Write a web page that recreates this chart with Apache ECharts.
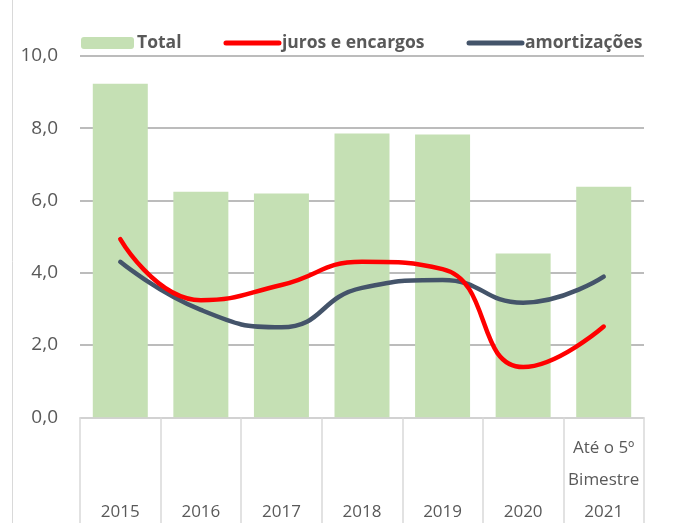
<!DOCTYPE html>
<html>
<head>
<meta charset="utf-8">
<script src="https://cdn.jsdelivr.net/npm/echarts@6/dist/echarts.min.js"></script>
<style>
html, body { margin: 0; padding: 0; background: #fff; }
#chart { width: 673px; height: 523px; }
</style>
</head>
<body>
<div id="chart"></div>
<script>
// categorias e séries
const categories = ['2015', '2016', '2017', '2018', '2019', '2020', 'Até o 5º\nBimestre\n2021']
const total = [9.23, 6.24, 6.19, 7.85, 7.82, 4.53, 6.38]
const juros = [4.93, 3.24, 3.66, 4.30, 4.10, 1.39, 2.51]
const amortizacoes = [4.30, 2.97, 2.49, 3.58, 3.80, 3.17, 3.89]

const textColor = '#595959'
const font = '"Open Sans", sans-serif'

const chart = echarts.init(document.getElementById('chart'))

const lineLegend = (name, color) => ({
    name: name,
    itemStyle: { opacity: 0 },
    lineStyle: { color: color, width: 5, cap: 'round' }
})

const options = {
    animation: false,
    textStyle: { fontFamily: font },
    graphic: [
        {
            type: 'line',
            shape: { x1: 12.5, y1: 0, x2: 12.5, y2: 523 },
            style: { stroke: '#d9d9d9', lineWidth: 1 }
        }
    ],
    legend: {
        left: 76,
        top: 29,
        itemWidth: 53,
        itemHeight: 12,
        itemGap: 42,
        textStyle: { color: textColor, fontSize: 17.5, fontWeight: 'bold', fontFamily: font, padding: [0, 0, 0, -2] },
        data: [
            'Total',
            lineLegend('juros e encargos', '#ff0000'),
            lineLegend('amortizações', '#44546a')
        ]
    },
    grid: {
        left: 80,
        right: 29,
        top: 55.8,
        bottom: 105.7,
        outerBoundsMode: 'none'
    },
    xAxis: {
        type: 'category',
        data: categories,
        boundaryGap: true,
        axisLine: { lineStyle: { color: '#d9d9d9', width: 1.5 } },
        axisTick: { show: true, length: 106, lineStyle: { color: '#d9d9d9', width: 1.5 } },
        axisLabel: {
            color: textColor,
            fontSize: 17,
            lineHeight: 32,
            margin: 111,
            verticalAlign: 'bottom',
            interval: 0
        }
    },
    yAxis: {
        type: 'value',
        min: 0,
        max: 10,
        interval: 2,
        axisLine: { show: false },
        axisTick: { show: false },
        splitLine: { lineStyle: { color: '#a6a6a6', width: 1.5 } },
        axisLabel: {
            color: textColor,
            fontSize: 19,
            margin: 22,
            formatter: v => v.toFixed(1).replace('.', ',')
        }
    },
    series: [
        {
            name: 'Total',
            type: 'bar',
            data: total,
            barWidth: 55,
            itemStyle: { color: '#c5e0b4' },
            z: 1
        },
        {
            name: 'juros e encargos',
            type: 'line',
            data: juros,
            smooth: 0.5,
            showSymbol: false,
            symbol: 'none',
            lineStyle: { color: '#ff0000', width: 4.5, cap: 'round' },
            itemStyle: { color: '#ff0000' },
            z: 3
        },
        {
            name: 'amortizações',
            type: 'line',
            data: amortizacoes,
            smooth: 0.5,
            showSymbol: false,
            symbol: 'none',
            lineStyle: { color: '#44546a', width: 4.5, cap: 'round' },
            itemStyle: { color: '#44546a' },
            z: 2
        }
    ]
}

chart.setOption(options)
</script>
</body>
</html>
